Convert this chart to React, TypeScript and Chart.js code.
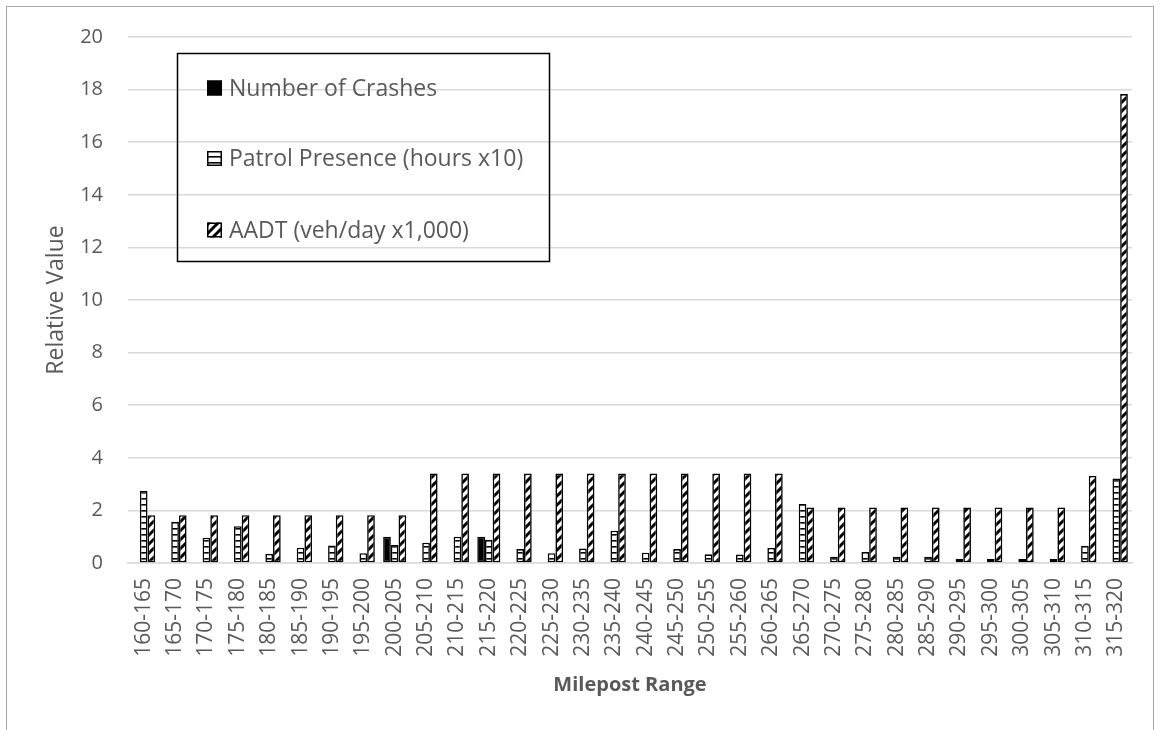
import React, { useEffect, useRef } from 'react';
import { Chart, registerables } from 'chart.js';

Chart.register(...registerables);

const categories = [
  '160-165', '165-170', '170-175', '175-180', '180-185', '185-190', '190-195', '195-200',
  '200-205', '205-210', '210-215', '215-220', '220-225', '225-230', '230-235', '235-240',
  '240-245', '245-250', '250-255', '255-260', '260-265', '265-270', '270-275', '275-280',
  '280-285', '285-290', '290-295', '295-300', '300-305', '305-310', '310-315', '315-320',
];

const crashes = [
  0, 0, 0, 0, 0, 0, 0, 0,
  1, 0, 0, 1, 0, 0, 0, 0,
  0, 0, 0, 0, 0, 0, 0, 0,
  0, 0, 0, 0, 0, 0, 0, 0,
];

const patrol = [
  2.74, 1.57, 0.96, 1.4, 0.35, 0.58, 0.67, 0.37,
  0.68, 0.77, 1.0, 0.88, 0.53, 0.37, 0.55, 1.23,
  0.39, 0.53, 0.33, 0.32, 0.57, 2.24, 0.24, 0.42,
  0.24, 0.24, 0.15, 0.15, 0.15, 0.15, 0.66, 3.21,
];

const aadt = [
  1.82, 1.82, 1.82, 1.82, 1.82, 1.82, 1.82, 1.82,
  1.82, 3.4, 3.4, 3.4, 3.4, 3.4, 3.4, 3.4,
  3.4, 3.4, 3.4, 3.4, 3.4, 2.11, 2.11, 2.11,
  2.11, 2.11, 2.11, 2.11, 2.11, 2.11, 3.31, 17.83,
];

const seriesLabels = ['Number of Crashes', 'Patrol Presence (hours x10)', 'AADT (veh/day x1,000)'];
const yAxisTitle = 'Relative Value';
const xAxisTitle = 'Milepost Range';
const yMin = 0;
const yMax = 20;
const yStep = 2;

const FONT = "'Open Sans', 'DejaVu Sans', sans-serif";
const TEXT = '#595959';

function horizontalPattern(): CanvasPattern | string {
  const c = document.createElement('canvas');
  c.width = 8;
  c.height = 6;
  const ctx = c.getContext('2d');
  if (!ctx) return '#fff';
  ctx.fillStyle = '#ffffff';
  ctx.fillRect(0, 0, 8, 6);
  ctx.fillStyle = '#000000';
  ctx.fillRect(0, 0, 8, 1.6);
  return ctx.createPattern(c, 'repeat') || '#fff';
}

function diagonalPattern(): CanvasPattern | string {
  const s = 9;
  const c = document.createElement('canvas');
  c.width = s;
  c.height = s;
  const ctx = c.getContext('2d');
  if (!ctx) return '#fff';
  ctx.fillStyle = '#ffffff';
  ctx.fillRect(0, 0, s, s);
  ctx.strokeStyle = '#000000';
  ctx.lineWidth = 3;
  ctx.lineCap = 'square';
  ctx.beginPath();
  ctx.moveTo(0, s);
  ctx.lineTo(s, 0);
  ctx.moveTo(-s / 2, s / 2);
  ctx.lineTo(s / 2, -s / 2);
  ctx.moveTo(s / 2, s * 1.5);
  ctx.lineTo(s * 1.5, s / 2);
  ctx.stroke();
  return ctx.createPattern(c, 'repeat') || '#fff';
}

const boxLegend = {
  id: 'boxLegend',
  afterDraw(chart: any) {
    const ctx = chart.ctx as CanvasRenderingContext2D;
    ctx.save();
    ctx.strokeStyle = '#000000';
    ctx.lineWidth = 1.5;
    ctx.strokeRect(177.5, 53.5, 372, 208);
    const ys = [88, 158.5, 230];
    chart.data.datasets.forEach((ds: any, i: number) => {
      const y = ys[i];
      ctx.fillStyle = ds.backgroundColor;
      ctx.fillRect(207, y - 7.5, 15, 15);
      ctx.strokeStyle = '#000';
      ctx.lineWidth = 1.5;
      ctx.strokeRect(207.75, y - 6.75, 13.5, 13.5);
      ctx.fillStyle = TEXT;
      ctx.font = `23px ${FONT}`;
      ctx.textAlign = 'left';
      ctx.textBaseline = 'middle';
      ctx.fillText(ds.label, 229, y + 1);
    });
    ctx.restore();
  },
};

export default function App() {
  const ref = useRef<HTMLCanvasElement | null>(null);

  useEffect(() => {
    if (!ref.current) return;
    const solid = '#000000';
    const hp = horizontalPattern();
    const dp = diagonalPattern();
    const common = {
      borderColor: '#000000',
      borderWidth: 1.6,
      borderSkipped: false,
      categoryPercentage: 0.735,
      barPercentage: 1.0,
    };
    const chart = new Chart(ref.current, {
      type: 'bar',
      data: {
        labels: categories,
        datasets: [
          { label: seriesLabels[0], data: crashes, backgroundColor: solid, ...common },
          { label: seriesLabels[1], data: patrol, backgroundColor: hp as any, ...common },
          { label: seriesLabels[2], data: aadt, backgroundColor: dp as any, ...common },
        ],
      } as any,
      options: {
        responsive: false,
        animation: false,
        events: [],
        layout: { padding: { left: 0, top: 35, right: 29, bottom: 0 } },
        plugins: {
          legend: { display: false },
          tooltip: { enabled: false },
        },
        scales: {
          x: {
            afterFit: (scale: any) => { scale.height = 167; },
            grid: { display: false, drawTicks: false },
            border: { display: true, color: '#d9d9d9', width: 1.5 },
            ticks: {
              minRotation: 90,
              maxRotation: 90,
              autoSkip: false,
              padding: 15,
              color: TEXT,
              font: { family: FONT, size: 21 },
            },
            title: {
              display: true,
              text: xAxisTitle,
              color: TEXT,
              font: { family: FONT, size: 20, weight: 'bold' },
              padding: { top: 0, bottom: 33 },
            },
          },
          y: {
            min: yMin,
            max: yMax,
            afterFit: (scale: any) => { scale.width = 128; },
            grid: { color: '#d9d9d9', lineWidth: 1.5, drawTicks: false },
            border: { display: false },
            ticks: {
              stepSize: yStep,
              padding: 25,
              color: TEXT,
              font: { family: FONT, size: 20 },
            },
            title: {
              display: true,
              text: yAxisTitle,
              color: TEXT,
              font: { family: FONT, size: 23 },
              padding: { top: 43, bottom: 0 },
            },
          },
        },
      } as any,
      plugins: [boxLegend],
    });
    return () => chart.destroy();
  }, []);

  return (
    <div style={{ position: 'absolute', left: 0, top: 0, width: 1161, height: 730, overflow: 'hidden', background: '#fff' }}>
      <div
        style={{
          position: 'absolute',
          left: 6,
          top: 6,
          width: 1148,
          height: 760,
          border: '1px solid #a6a6a6',
          boxSizing: 'border-box',
        }}
      />
      <canvas ref={ref} width={1161} height={730} style={{ position: 'absolute', left: 0, top: 0 }} />
    </div>
  );
}
